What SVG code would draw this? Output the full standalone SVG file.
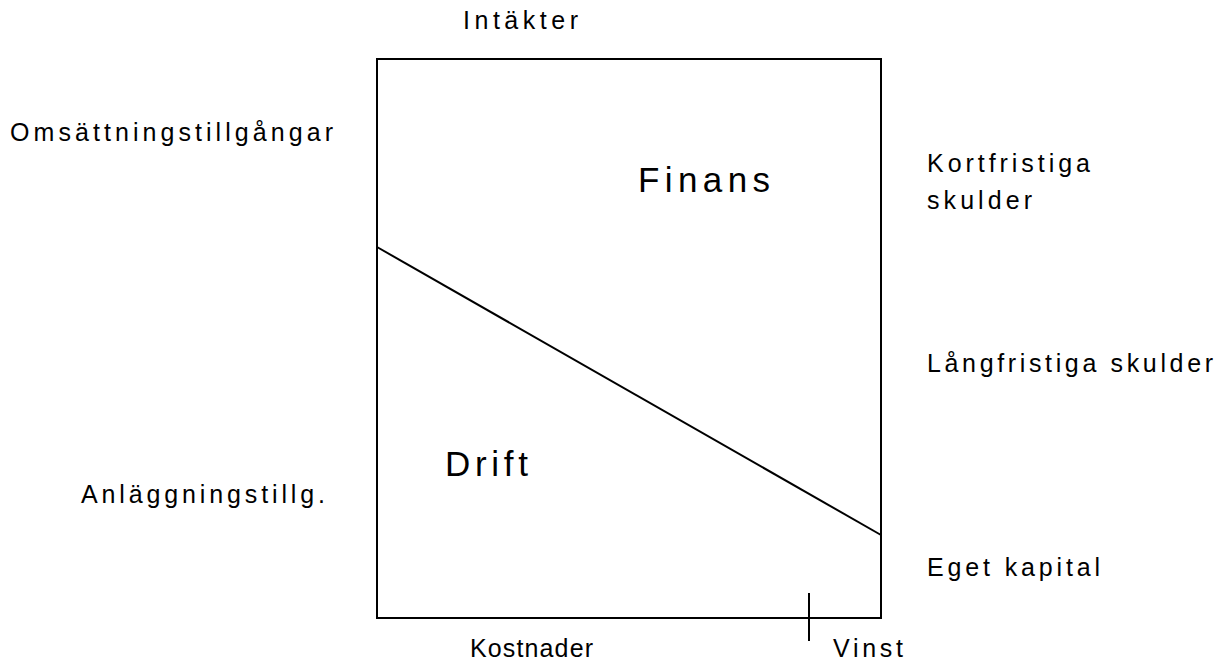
<svg xmlns="http://www.w3.org/2000/svg" width="1227" height="661" viewBox="0 0 1227 661">
<style>
text{font-family:"Liberation Sans",Arial,sans-serif;fill:#000;font-size:25px}
.big{font-size:35px}
.ln{stroke:#000;stroke-width:2;fill:none}
</style>
<rect width="1227" height="661" fill="#fff"/>
<g id="box">
<rect class="ln" x="377" y="59" width="504" height="559"/>
</g>
<g id="connectors">
<line class="ln" x1="377" y1="247" x2="881" y2="535"/>
<line class="ln" x1="809" y1="593" x2="809" y2="641"/>
</g>
<g id="labels">
<text x="463" y="29" textLength="115" lengthAdjust="spacing">Intäkter</text>
<text x="10" y="141" textLength="323" lengthAdjust="spacing">Omsättningstillgångar</text>
<text class="big" x="638" y="192" textLength="132" lengthAdjust="spacing">Finans</text>
<text x="927" y="172" textLength="163" lengthAdjust="spacing">Kortfristiga</text>
<text x="927" y="209" textLength="105" lengthAdjust="spacing">skulder</text>
<text x="927" y="372" textLength="286" lengthAdjust="spacing">Långfristiga skulder</text>
<text class="big" x="445" y="476" textLength="83" lengthAdjust="spacing">Drift</text>
<text x="81" y="503" textLength="244" lengthAdjust="spacing">Anläggningstillg.</text>
<text x="927" y="576" textLength="173" lengthAdjust="spacing">Eget kapital</text>
<text x="470" y="657" textLength="123" lengthAdjust="spacing">Kostnader</text>
<text x="833" y="657" textLength="70" lengthAdjust="spacing">Vinst</text>
</g>
</svg>
